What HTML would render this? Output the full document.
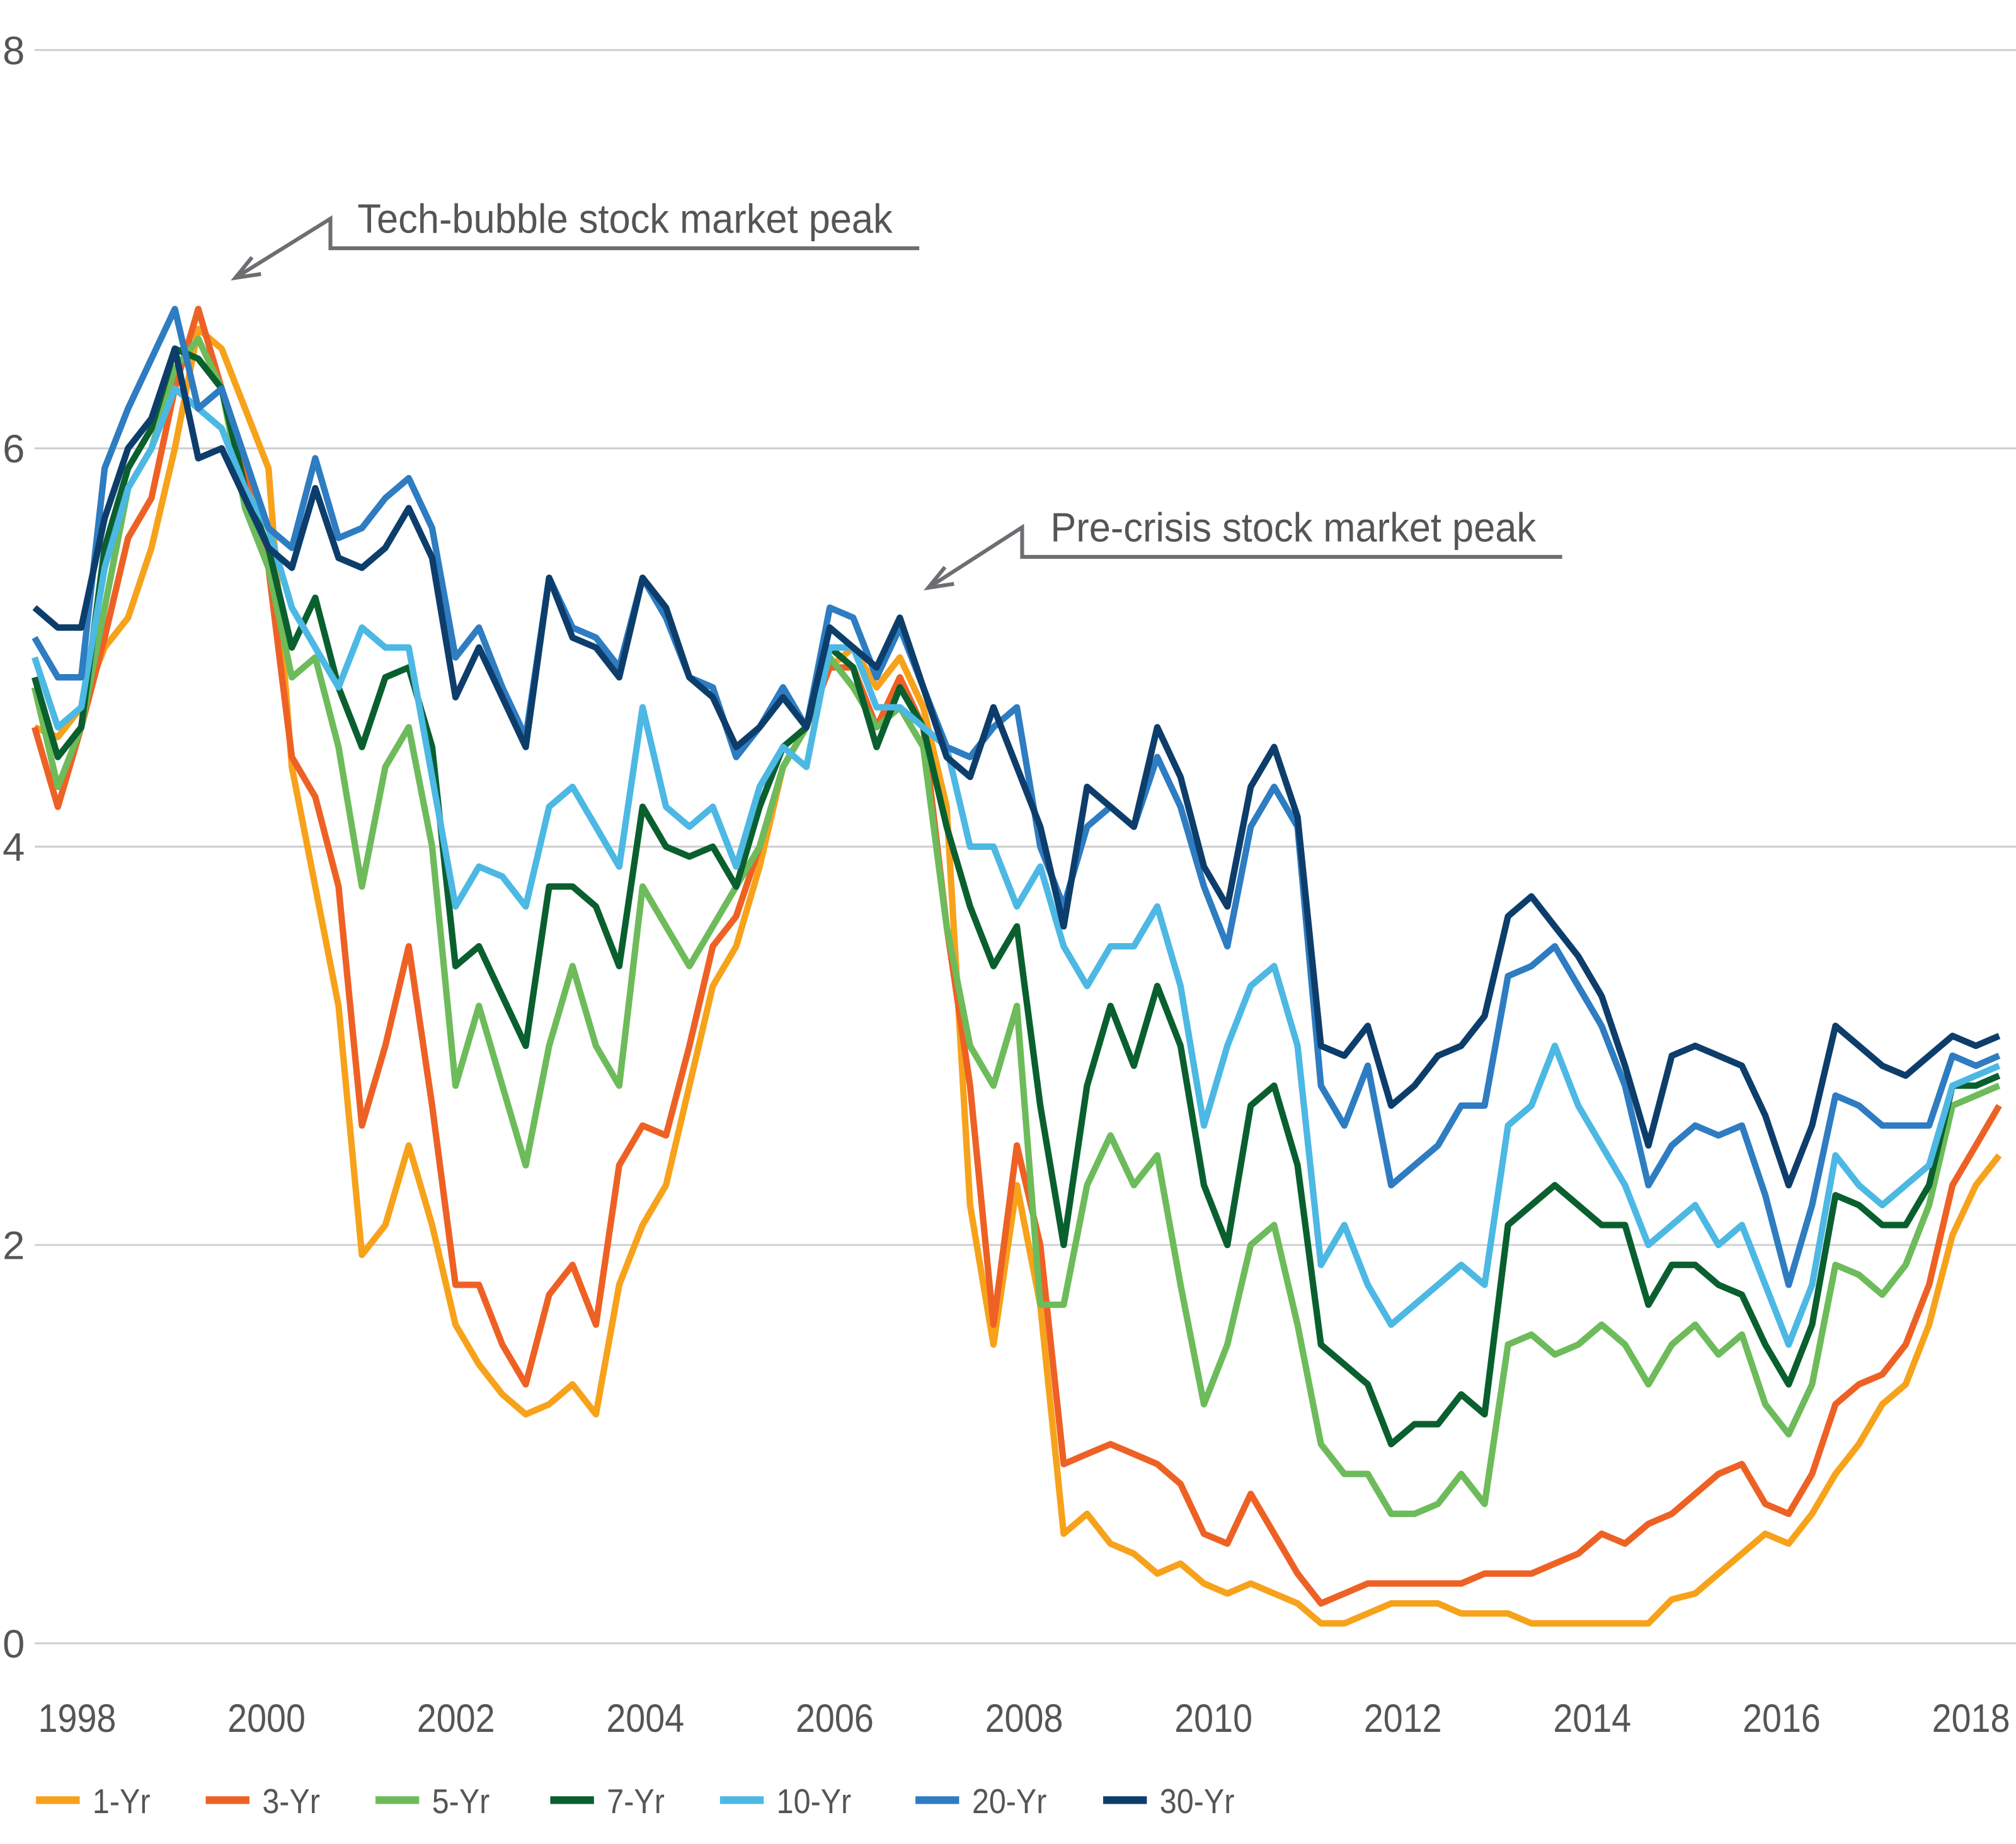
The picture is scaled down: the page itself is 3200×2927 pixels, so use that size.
<!DOCTYPE html>
<html><head><meta charset="utf-8"><style>
html,body{margin:0;padding:0;background:#fff;}
svg{display:block;}
text{font-family:"Liberation Sans",sans-serif;fill:#555;}
</style></head><body>
<svg id="chart" width="3200" height="2927" viewBox="0 0 1568 1434" xmlns="http://www.w3.org/2000/svg">
<g id="grid"></g>
<g id="yticks"></g>
<g id="xticks"></g>
<g id="series"></g>
<g>
<polyline points="183,216 257,170 257,193 715,193" fill="none" stroke="#6d6e71" stroke-width="3"/>
<polyline points="196,200 183,216 203,213" fill="none" stroke="#6d6e71" stroke-width="3"/>
<text x="278" y="181" font-size="32" fill="#444" transform="translate(278,0) scale(0.94,1) translate(-278,0)">Tech-bubble stock market peak</text>
</g>
<g>
<polyline points="722,457 795,410 795,433 1215,433" fill="none" stroke="#6d6e71" stroke-width="3"/>
<polyline points="735,441 722,457 742,454" fill="none" stroke="#6d6e71" stroke-width="3"/>
<text x="817" y="421" font-size="32" fill="#444" transform="translate(817,0) scale(0.94,1) translate(-817,0)">Pre-crisis stock market peak</text>
</g>
<g id="legend"></g>
</svg>
<script>
const seriesNames=["1-Yr","3-Yr","5-Yr","7-Yr","10-Yr","20-Yr","30-Yr"];
const colors=["#f7a21b","#ee6125","#6dbb5a","#0a5f2f","#4cb8e3","#2e7cc1","#0d3d6b"];
const startYear=1997.55, stepYear=0.247;
const yTicks=[0,2,4,6,8];
const xTickYears=[1998,2000,2002,2004,2006,2008,2010,2012,2014,2016,2018];
const y1=[4.6,4.55,4.7,5.0,5.15,5.5,6.0,6.6,6.5,6.2,5.9,4.4,3.8,3.2,1.95,2.1,2.5,2.1,1.6,1.4,1.25,1.15,1.2,1.3,1.15,1.8,2.1,2.3,2.8,3.3,3.5,3.9,4.4,4.6,4.9,5.0,4.8,4.95,4.7,4.2,2.2,1.5,2.3,1.7,0.55,0.65,0.5,0.45,0.35,0.4,0.3,0.25,0.3,0.25,0.2,0.1,0.1,0.15,0.2,0.2,0.2,0.15,0.15,0.15,0.1,0.1,0.1,0.1,0.1,0.1,0.22,0.25,0.35,0.45,0.55,0.5,0.65,0.85,1.0,1.2,1.3,1.6,2.05,2.3,2.45];
const y3=[4.6,4.2,4.6,5.05,5.55,5.75,6.3,6.7,6.3,5.9,5.4,4.45,4.25,3.8,2.6,3.0,3.5,2.7,1.8,1.8,1.5,1.3,1.75,1.9,1.6,2.4,2.6,2.55,3.0,3.5,3.65,4.0,4.4,4.6,4.9,4.9,4.6,4.85,4.6,3.6,2.8,1.6,2.5,2.0,0.9,0.95,1.0,0.95,0.9,0.8,0.55,0.5,0.75,0.55,0.35,0.2,0.25,0.3,0.3,0.3,0.3,0.3,0.35,0.35,0.35,0.4,0.45,0.55,0.5,0.6,0.65,0.75,0.85,0.9,0.7,0.65,0.85,1.2,1.3,1.35,1.5,1.8,2.3,2.5,2.7];
const y5=[4.8,4.3,4.6,5.2,5.8,6.0,6.4,6.55,6.3,5.7,5.4,4.85,4.95,4.5,3.8,4.4,4.6,4.0,2.8,3.2,2.8,2.4,3.0,3.4,3.0,2.8,3.8,3.6,3.4,3.6,3.8,4.0,4.4,4.6,4.95,4.8,4.6,4.7,4.5,3.6,3.0,2.8,3.2,1.7,1.7,2.3,2.55,2.3,2.45,1.8,1.2,1.5,2.0,2.1,1.6,1.0,0.85,0.85,0.65,0.65,0.7,0.85,0.7,1.5,1.55,1.45,1.5,1.6,1.5,1.3,1.5,1.6,1.45,1.55,1.2,1.05,1.3,1.9,1.85,1.75,1.9,2.2,2.7,2.75,2.8];
const y7=[4.85,4.45,4.6,5.5,5.9,6.1,6.5,6.45,6.3,5.8,5.5,5.0,5.25,4.8,4.5,4.85,4.9,4.5,3.4,3.5,3.25,3.0,3.8,3.8,3.7,3.4,4.2,4.0,3.95,4.0,3.8,4.2,4.5,4.6,5.0,4.9,4.5,4.8,4.6,4.1,3.7,3.4,3.6,2.7,2.0,2.8,3.2,2.9,3.3,3.0,2.3,2.0,2.7,2.8,2.4,1.5,1.4,1.3,1.0,1.1,1.1,1.25,1.15,2.1,2.2,2.3,2.2,2.1,2.1,1.7,1.9,1.9,1.8,1.75,1.5,1.3,1.6,2.25,2.2,2.1,2.1,2.3,2.8,2.8,2.85];
const y10=[4.95,4.6,4.7,5.4,5.8,6.0,6.3,6.2,6.1,5.8,5.6,5.2,5.0,4.8,5.1,5.0,5.0,4.35,3.7,3.9,3.85,3.7,4.2,4.3,4.1,3.9,4.7,4.2,4.1,4.2,3.9,4.3,4.5,4.4,5.0,5.0,4.7,4.7,4.6,4.5,4.0,4.0,3.7,3.9,3.5,3.3,3.5,3.5,3.7,3.3,2.6,3.0,3.3,3.4,3.0,1.9,2.1,1.8,1.6,1.7,1.8,1.9,1.8,2.6,2.7,3.0,2.7,2.5,2.3,2.0,2.1,2.2,2.0,2.1,1.8,1.5,1.8,2.45,2.3,2.2,2.3,2.4,2.8,2.85,2.9];
const y20=[5.05,4.85,4.85,5.9,6.2,6.45,6.7,6.2,6.3,5.95,5.6,5.5,5.95,5.55,5.6,5.75,5.85,5.6,4.95,5.1,4.8,4.55,5.35,5.1,5.05,4.9,5.35,5.15,4.85,4.8,4.45,4.6,4.8,4.6,5.2,5.15,4.85,5.1,4.8,4.5,4.45,4.6,4.7,4.0,3.7,4.1,4.2,4.1,4.45,4.2,3.8,3.5,4.1,4.3,4.1,2.8,2.6,2.9,2.3,2.4,2.5,2.7,2.7,3.35,3.4,3.5,3.3,3.1,2.8,2.3,2.5,2.6,2.55,2.6,2.25,1.8,2.2,2.75,2.7,2.6,2.6,2.6,2.95,2.9,2.95];
const y30=[5.2,5.1,5.1,5.65,6.0,6.15,6.5,5.95,6.0,5.75,5.5,5.4,5.8,5.45,5.4,5.5,5.7,5.45,4.75,5.0,4.75,4.5,5.35,5.05,5.0,4.85,5.35,5.2,4.85,4.75,4.5,4.6,4.75,4.6,5.1,5.0,4.9,5.15,4.8,4.45,4.35,4.7,4.4,4.1,3.6,4.3,4.2,4.1,4.6,4.35,3.9,3.7,4.3,4.5,4.15,3.0,2.95,3.1,2.7,2.8,2.95,3.0,3.15,3.65,3.75,3.6,3.45,3.25,2.9,2.5,2.95,3.0,2.95,2.9,2.65,2.3,2.6,3.1,3.0,2.9,2.85,2.95,3.05,3.0,3.05];
const allSeries=[y1,y3,y5,y7,y10,y20,y30];
const NS="http://www.w3.org/2000/svg";
const xScale=yr=>60+(yr-1998)*73.65;
const yScale=v=>1278-v*154.9;
function mk(tag,attrs,parent){const e=document.createElementNS(NS,tag);for(const k in attrs)e.setAttribute(k,attrs[k]);parent.appendChild(e);return e;}
const grid=document.getElementById('grid'),yt=document.getElementById('yticks'),xt=document.getElementById('xticks'),sg=document.getElementById('series'),lg=document.getElementById('legend');
yTicks.forEach(v=>{
  const l=mk('line',{x1:27,x2:1568,y1:yScale(v),y2:yScale(v),stroke:'#cfcfcf','stroke-width':1.5},grid);
  
  
  const t=mk('text',{x:2,y:yScale(v)+11,'font-size':31},yt);t.textContent=v;
  
  
});
xTickYears.forEach(yr=>{
  const t=mk('text',{x:xScale(yr),y:1347,'font-size':31,'text-anchor':'middle',transform:`translate(${xScale(yr)},0) scale(0.88,1) translate(${-xScale(yr)},0)`},xt);t.textContent=yr;
  
  
});
allSeries.forEach((arr,si)=>{
  const pts=arr.map((v,i)=>xScale(startYear+i*stepYear).toFixed(1)+','+yScale(v).toFixed(1)).join(' ');
  const p=mk('polyline',{points:pts,fill:'none',stroke:colors[si],'stroke-width':5,'stroke-linejoin':'round'},sg);
  
  
});
const legX=[28,160,292,428,560,712,858];
seriesNames.forEach((n,i)=>{
  const g=mk('g',{},lg);
  
  
  mk('line',{x1:legX[i],x2:legX[i]+34,y1:1400,y2:1400,stroke:colors[i],'stroke-width':6},g);
  const t=mk('text',{x:legX[i]+44,y:1410,'font-size':27,fill:'#777',transform:`translate(${legX[i]+44},0) scale(0.88,1) translate(${-(legX[i]+44)},0)`},g);t.textContent=n;
});
</script>
</body></html>
